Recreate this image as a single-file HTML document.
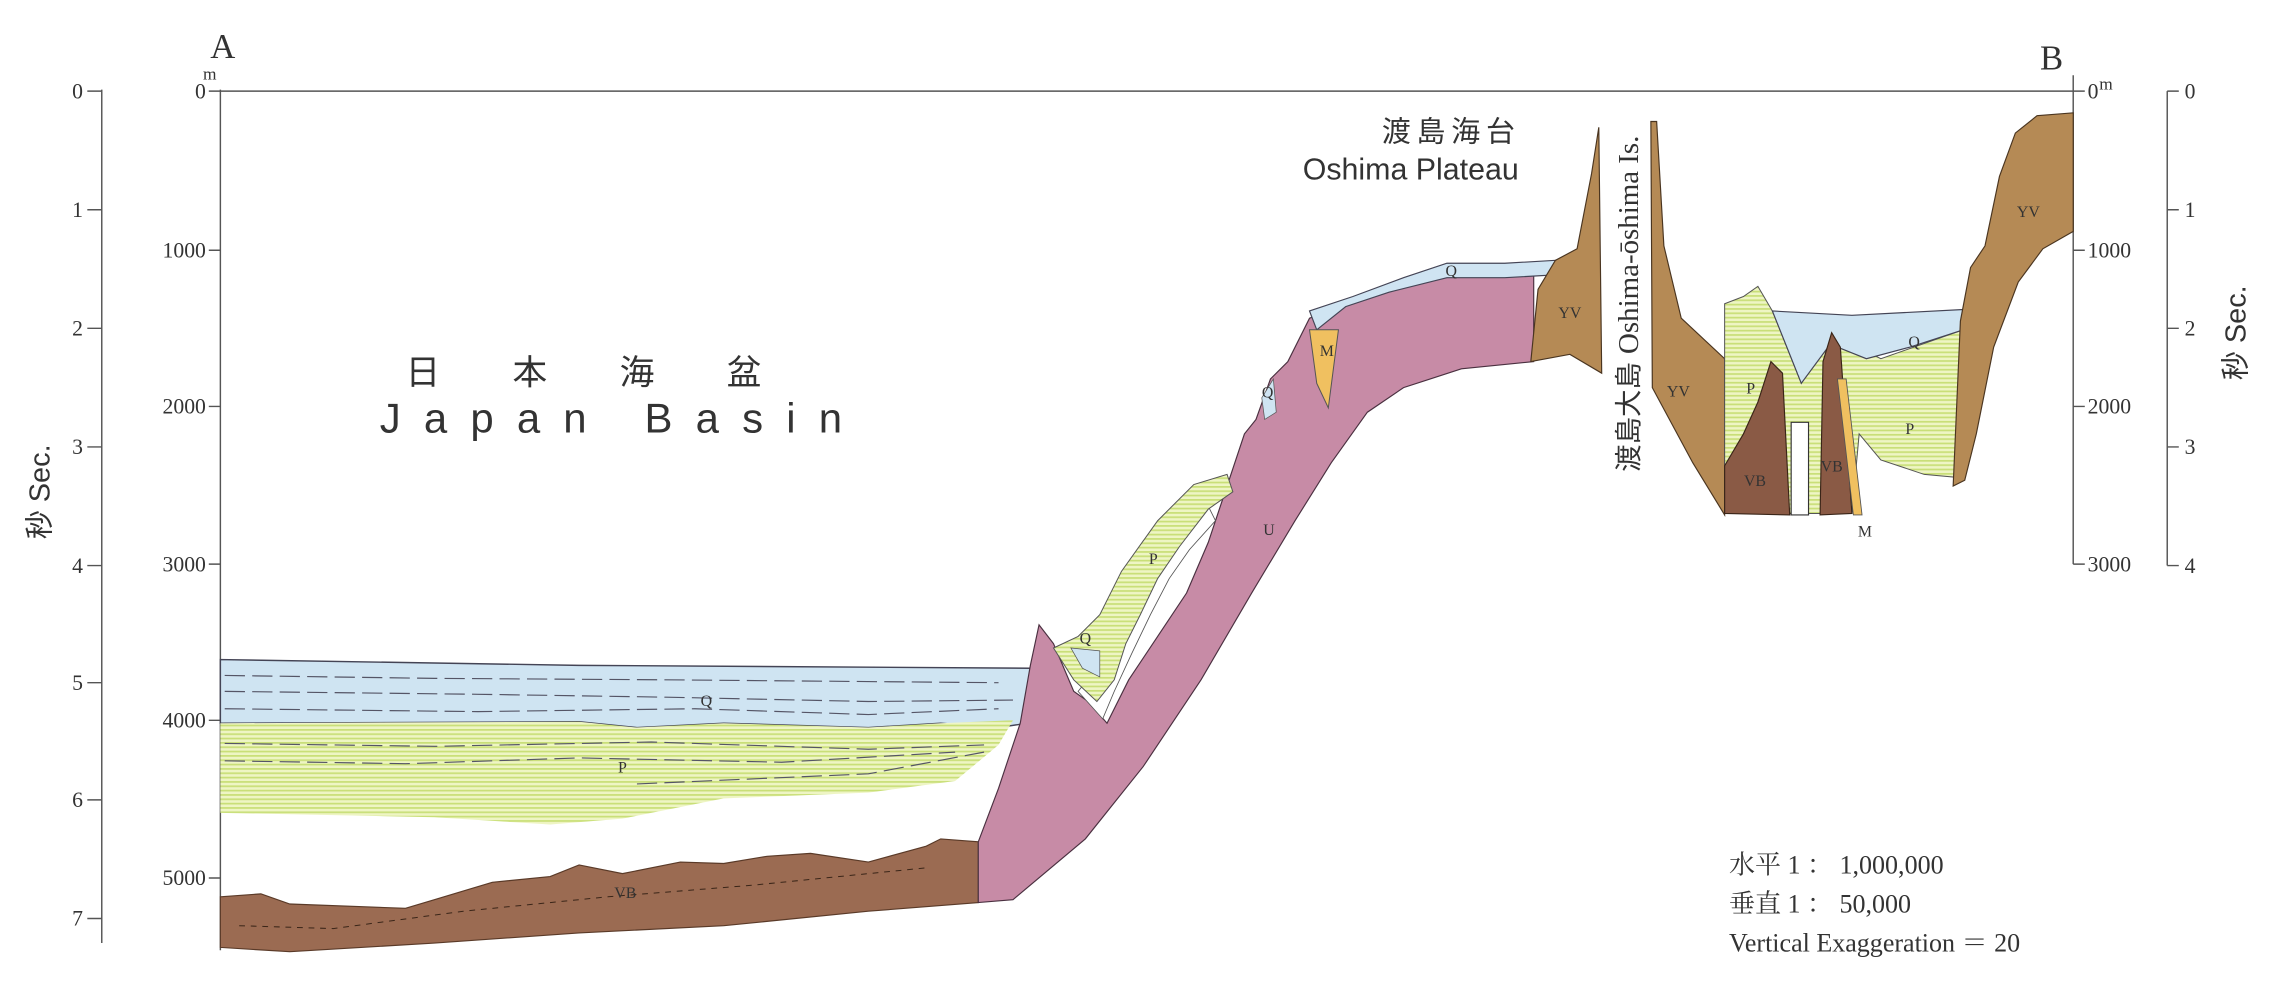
<!DOCTYPE html>
<html><head><meta charset="utf-8"><style>
html,body{margin:0;padding:0;background:#fff;}
svg{display:block;}
text{font-family:"Liberation Serif","Noto Serif CJK SC",serif;fill:#333;}
.s{font-family:"Liberation Sans","Noto Sans CJK JP",sans-serif;}
</style></head><body>
<svg width="2269" height="985" viewBox="0 0 1568 681" xmlns="http://www.w3.org/2000/svg">
<defs>
<pattern id="ps" width="6" height="3" patternUnits="userSpaceOnUse">
<rect width="6" height="3" fill="#eef5c4"/><rect width="6" height="1.2" fill="#c9df78"/>
</pattern>
</defs>
<rect width="1568" height="681" fill="#fff"/>
<g stroke="#555" stroke-width="1" fill="none">
<line x1="70" y1="62" x2="70" y2="652"/>
<line x1="152" y1="62" x2="152" y2="657"/>
<line x1="152" y1="63" x2="1433" y2="63"/>
<line x1="1433" y1="52" x2="1433" y2="390"/>
<line x1="1498" y1="63" x2="1498" y2="391"/>
<path d="M60 63H70M60 145H70M60 227H70M60 309H70M60 391H70M60 472H70M60 553H70M60 635H70"/>
<path d="M144 63H152M144 173H152M144 281H152M144 390H152M144 498H152M144 607H152"/>
<path d="M1433 63H1441M1433 173H1441M1433 281H1441M1433 390H1441"/>
<path d="M1498 63H1506M1498 145H1506M1498 227H1506M1498 309H1506M1498 391H1506"/>
</g>
<g font-size="15" text-anchor="end">
<text x="57" y="68">0</text><text x="57" y="150">1</text><text x="57" y="232">2</text><text x="57" y="314">3</text><text x="57" y="396">4</text><text x="57" y="477">5</text><text x="57" y="558">6</text><text x="57" y="640">7</text>
<text x="142" y="68">0</text><text x="142" y="178">1000</text><text x="142" y="286">2000</text><text x="142" y="395">3000</text><text x="142" y="503">4000</text><text x="142" y="612">5000</text>
</g>
<g font-size="15">
<text x="1443" y="68">0</text><text x="1451" y="62" font-size="12">m</text><text x="1443" y="178">1000</text><text x="1443" y="286">2000</text><text x="1443" y="395">3000</text>
<text x="1510" y="68">0</text><text x="1510" y="150">1</text><text x="1510" y="232">2</text><text x="1510" y="314">3</text><text x="1510" y="396">4</text>
</g>
<text x="140" y="55" font-size="12">m</text>
<text x="145" y="40" font-size="24">A</text>
<text x="1410" y="48" font-size="24">B</text>
<text class="s" font-size="20" transform="translate(34,340) rotate(-90)" text-anchor="middle">秒 Sec.</text>
<text class="s" font-size="20" transform="translate(1552,230) rotate(-90)" text-anchor="middle">秒 Sec.</text>

<path d="M152 456 L400 460 L712 462 L710 500 L690 503 L650 500 L600 503 L500 500 L440 503 L400 499 L152 500Z" fill="#cfe4f2" stroke="#445" stroke-width="1"/>
<path d="M152 500 L400 499 L440 503 L500 500 L600 503 L650 500 L700 498 L690 515 L660 540 L600 548 L500 552 L430 566 L380 570 L300 565 L152 562Z" fill="url(#ps)"/>
<g stroke="#556" stroke-width="0.8" fill="none" stroke-dasharray="14 5">
<path d="M155 467 L300 469 L460 470 L690 472"/><path d="M155 478 L330 480 L460 482 L600 485 L700 484"/><path d="M155 490 L330 492 L480 490 L600 494 L690 490"/>
<path d="M155 514 L300 516 L450 513 L600 518 L680 515"/><path d="M155 526 L280 528 L400 524 L540 527 L660 520"/><path d="M440 542 L600 535 L680 520"/>
</g>
<path d="M152 620 L180 618 L200 625 L280 628 L300 622 L340 610 L380 606 L400 598 L430 604 L470 596 L500 597 L530 592 L560 590 L600 596 L640 585 L650 580 L676 582 L676 624 L600 630 L500 640 L400 645 L300 652 L200 658 L152 655Z" fill="#9b6b52" stroke="#5a3a28" stroke-width="0.8"/>
<g stroke="#3a2518" stroke-width="0.7" fill="none" stroke-dasharray="4 4"><path d="M165 640 L230 642 L320 630 L420 620 L520 612 L640 600"/></g>

<path d="M676 624 L676 582 L690 545 L705 500 L712 460 L718 432 L728 445 L742 478 L752 485 L765 500 L780 470 L800 440 L820 410 L835 375 L845 345 L860 300 L868 290 L878 262 L890 250 L905 220 L930 210 L960 200 L990 190 L1030 190 L1060 186 L1060 250 L1010 255 L970 268 L945 285 L920 320 L895 360 L865 410 L830 470 L790 530 L750 580 L700 622Z" fill="#c78ba6" stroke="#4a3040" stroke-width="0.8"/>
<path d="M745 478 L758 462 L768 440 L780 418 L798 392 L815 370 L835 350 L840 360 L822 380 L808 400 L795 425 L782 452 L770 478 L762 497Z" fill="#fff" stroke="#555" stroke-width="0.6"/>
<path d="M728 448 L745 440 L760 425 L775 395 L800 360 L825 335 L848 328 L852 340 L835 352 L815 378 L800 400 L788 425 L778 445 L770 470 L758 485 L742 470Z" fill="url(#ps)" stroke="#555" stroke-width="0.7"/>
<path d="M740 448 L760 450 L760 468 L748 462Z" fill="#cfe4f2" stroke="#555" stroke-width="0.5"/>
<path d="M905 215 L935 205 L970 192 L1000 182 L1040 182 L1075 180 L1075 190 L1040 192 L1000 192 L960 202 L930 212 L910 228Z" fill="#cfe4f2" stroke="#445" stroke-width="0.8"/>
<path d="M872 275 L880 262 L882 285 L874 290Z" fill="#cfe4f2" stroke="#555" stroke-width="0.5"/>
<path d="M905 228 L925 228 L918 282 L910 265Z" fill="#f0c060" stroke="#555" stroke-width="0.7"/>
<path d="M1058 250 L1063 200 L1075 180 L1090 172 L1100 120 L1105 88 L1107 258 L1085 245Z" fill="#b58a55" stroke="#4a3520" stroke-width="0.8"/>

<path d="M1141 84 L1145 84 L1150 170 L1162 220 L1192 248 L1192 356 L1170 320 L1142 268Z" fill="#b58a55" stroke="#4a3520" stroke-width="0.8"/>
<path d="M1192 210 L1205 205 L1215 198 L1225 215 L1245 265 L1268 232 L1300 248 L1357 228 L1352 330 L1330 328 L1300 318 L1285 300 L1280 355 L1192 355Z" fill="url(#ps)" stroke="#555" stroke-width="0.7"/>
<path d="M1225 215 L1280 218 L1357 214 L1357 228 L1320 240 L1290 248 L1265 238 L1245 265 L1235 240Z" fill="#cfe4f2" stroke="#445" stroke-width="0.8"/>
<path d="M1192 355 L1192 322 L1205 300 L1215 278 L1224 250 L1232 258 L1237 356Z" fill="#8a5a45" stroke="#3a2518" stroke-width="0.8"/>
<path d="M1258 356 L1260 250 L1266 230 L1272 240 L1280 355Z" fill="#8a5a45" stroke="#3a2518" stroke-width="0.8"/>
<path d="M1270 262 L1276 262 L1287 356 L1281 356Z" fill="#f0c060" stroke="#555" stroke-width="0.6"/>
<path d="M1238 292 L1250 292 L1250 356 L1238 356Z" fill="#fff" stroke="#333" stroke-width="0.8"/>
<path d="M1350 336 L1355 222 L1362 185 L1372 170 L1382 122 L1393 92 L1408 80 L1433 78 L1433 160 L1412 172 L1395 195 L1378 240 L1366 300 L1358 332Z" fill="#b58a55" stroke="#4a3520" stroke-width="0.8"/>

<g font-size="11" text-anchor="middle">
<text x="488" y="488">Q</text><text x="430" y="534">P</text><text x="432" y="621">VB</text>
<text x="877" y="370">U</text><text x="797" y="390">P</text><text x="750" y="445">Q</text><text x="876" y="275">Q</text><text x="917" y="246">M</text><text x="1003" y="191">Q</text>
<text x="1085" y="220">YV</text><text x="1160" y="274">YV</text><text x="1210" y="272">P</text><text x="1213" y="336">VB</text><text x="1266" y="326">VB</text><text x="1289" y="371">M</text><text x="1323" y="240">Q</text><text x="1320" y="300">P</text><text x="1402" y="150">YV</text>
</g>

<text class="s" x="1003" y="98" font-size="20" text-anchor="middle" letter-spacing="4">渡島海台</text>
<text class="s" x="975" y="124" font-size="21" text-anchor="middle" fill="#444">Oshima Plateau</text>
<text class="s" transform="translate(1132,210) rotate(-90)" font-size="20" text-anchor="middle"><tspan font-size="19">渡島大島</tspan> <tspan font-family="Liberation Serif">Oshima-ōshima Is.</tspan></text>
<text class="s" x="428" y="266" font-size="24" text-anchor="middle" letter-spacing="50">日本海盆</text>
<text class="s" x="430" y="299" font-size="29" text-anchor="middle" letter-spacing="16">Japan Basin</text>

<text x="1195" y="604" font-size="18">水平  1 ： 1,000,000</text>
<text x="1195" y="631" font-size="18">垂直  1 ：     50,000</text>
<text x="1195" y="658" font-size="18">Vertical Exaggeration ＝ 20</text>
</svg>
</body></html>
